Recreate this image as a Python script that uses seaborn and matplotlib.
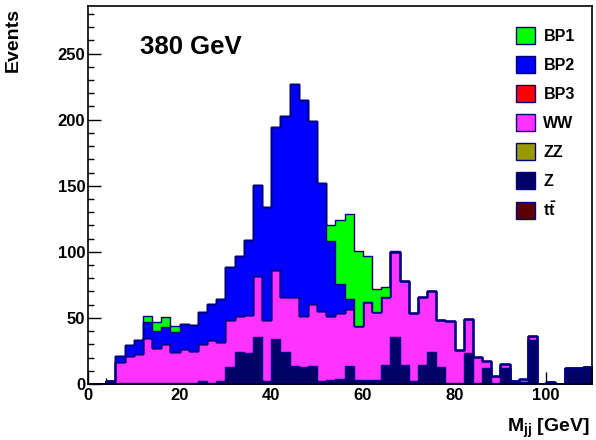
import numpy as np
import pandas as pd
import matplotlib
matplotlib.use("Agg")
import matplotlib.pyplot as plt
from matplotlib.patches import Patch
from matplotlib.ticker import MultipleLocator
import seaborn as sns

# Dijet invariant mass, 2 GeV bins from 0 to 110 GeV
bin_edges = np.arange(0, 112, 2)
bin_centers = bin_edges[:-1] + 1.0

processes = ["BP1", "BP2", "BP3", "WW", "ZZ", "Z", "ttbar"]
labels = ["BP1", "BP2", "BP3", "WW", "ZZ", "Z", r"$\mathbf{t\bar{t}}$"]
colors = ["#00ff00", "#0000ff", "#ff0000", "#ff33ff", "#999900", "#000066", "#5c0000"]

ev_Z = [0, 0, 2.5, 1, 1, 1, 1, 1, 1, 1, 1, 1, 2, 1, 2.3, 12.6, 24, 23.7, 35.3, 2.5,
        33.8, 24, 13.4, 12.6, 13.4, 2.0, 2.5, 3.0, 13.4, 2.5, 2.5, 2.5, 13.9, 35.1, 13.5, 1.5,
        13.5, 24.2, 13, 1, 0.5, 23.2, 0.7, 12.2, 1, 11.9, 2.3, 1.3, 33.6, 0, 1.7, 0.3,
        11.9, 11.9, 12.5]
ev_WW = [0, 0, 0, 15.4, 20.5, 22, 34, 26.3, 29.5, 23.5, 25.8, 24, 28, 32.3, 29.7, 35.9,
         27.5, 28.3, 46.7, 46, 52.1, 41.5, 52.3, 38.7, 46.4, 52.7, 48.5, 50, 43.1, 41.2,
         58.8, 51.5, 51.7, 64.1, 64, 51.5, 52.1, 46.1, 35.3, 46.3, 25, 25.8, 20, 5, 5,
         3.5, 0, 2.5, 2.6, 0, 0, 0, 0, 0, 0]
ev_BP2 = [0, 0, 0, 4.8, 7.8, 10, 11.7, 13.1, 12.5, 15.1, 18.9, 20, 24.3, 27.1, 32.4,
          39.9, 45, 56.6, 68.8, 85.1, 108.5, 137.5, 160.8, 163.2, 138.4, 96.8, 56.5,
          22.1, 7.5, 0, 0, 0, 0, 0, 0, 0, 0, 0, 0, 0, 0, 0, 0, 0, 0, 0, 0, 0, 0, 0, 0,
          0, 0, 0, 0]
ev_BP1 = [0, 0, 0, 0, 0, 0, 4.6, 6.6, 7.5, 4.1, 0, 0, 0, 0, 0, 0, 0, 0, 0, 0, 0, 0, 0,
          0, 0, 0, 12, 48.7, 64.5, 56.7, 35.4, 17.5, 7.1, 0.8, 0, 0, 0, 0, 0, 0, 0, 0,
          0, 0, 0, 0, 0, 0, 0, 0, 0, 0, 0, 0, 0]
ev_BP3 = [0] * 55
ev_ZZ = [0] * 55
ev_tt = [0] * 22 + [0.5] * 15 + [0] * 18

yields = {"BP1": ev_BP1, "BP2": ev_BP2, "BP3": ev_BP3, "WW": ev_WW,
          "ZZ": ev_ZZ, "Z": ev_Z, "ttbar": ev_tt}

frames = [pd.DataFrame({"mjj": bin_centers, "events": yields[p], "process": p})
          for p in processes]
df = pd.concat(frames, ignore_index=True)

plt.rcParams["font.family"] = ["Liberation Sans", "DejaVu Sans"]
plt.rcParams["font.weight"] = "bold"
plt.rcParams["mathtext.fontset"] = "custom"
plt.rcParams["mathtext.rm"] = "Liberation Sans:bold"
plt.rcParams["mathtext.it"] = "Liberation Sans:bold"
plt.rcParams["mathtext.bf"] = "Liberation Sans:bold"

fig = plt.figure(figsize=(5.96, 4.40), dpi=100)
ax = fig.add_axes([88 / 596, 1 - 384 / 440, 504 / 596, 378 / 440])

# Stacked histogram: first hue level ends up on top of the stack
sns.histplot(data=df, x="mjj", weights="events", hue="process",
             hue_order=processes, palette=dict(zip(processes, colors)),
             binwidth=2, binrange=(0, 110), multiple="stack", element="step",
             fill=True, alpha=1.0, edgecolor="#000080", linewidth=1.0,
             legend=False, ax=ax)

ax.set_xlim(0, 110)
ax.set_ylim(0, 286)
ax.set_xlabel("")
ax.set_ylabel("")

ax.xaxis.set_major_locator(MultipleLocator(20))
ax.xaxis.set_minor_locator(MultipleLocator(4))
ax.yaxis.set_major_locator(MultipleLocator(50))
ax.yaxis.set_minor_locator(MultipleLocator(10))
ax.tick_params(which="both", direction="in", top=False, right=False,
               labelsize=12, width=1.0, color="black")
ax.tick_params(which="major", length=9)
ax.tick_params(which="minor", length=4.5)
ax.tick_params(axis="x", pad=3)
ax.tick_params(axis="y", pad=2)
for lab in ax.get_xticklabels() + ax.get_yticklabels():
    lab.set_fontweight("bold")
for sp in ax.spines.values():
    sp.set_linewidth(1.2)
    sp.set_color("black")
# histogram fills sit on top of the tick marks
ax.set_axisbelow(True)

ax.text(0.103, 0.892, "380 GeV", transform=ax.transAxes, fontsize=18.5,
        fontweight="bold", va="center", ha="left")

fig.text(13 / 596, 1 - 8 / 440, "Events", rotation=90, ha="center", va="top",
         fontsize=14, fontweight="bold")
fig.text(590 / 596, 1 - 432 / 440, r"$\mathbf{M_{jj}}$ [GeV]", ha="right",
         va="baseline", fontsize=14, fontweight="bold")

handles = [Patch(facecolor=c, edgecolor="#000080", linewidth=1.0) for c in colors]
ax.legend(handles, labels, loc="upper right", bbox_to_anchor=(0.988, 0.974),
          frameon=False, handlelength=1.2, handleheight=1.3,
          handletextpad=0.5, labelspacing=0.72, borderaxespad=0.3,
          prop={"weight": "bold", "size": 11.5})

fig.savefig("out.png", dpi=100)
